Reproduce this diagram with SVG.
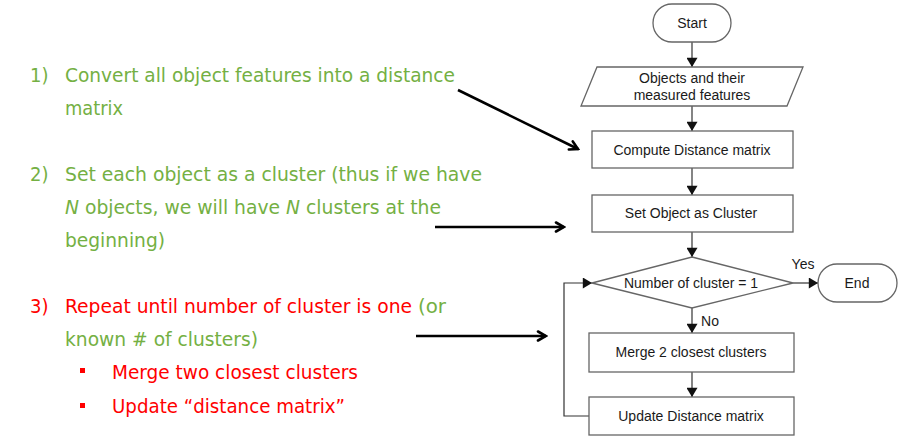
<svg xmlns="http://www.w3.org/2000/svg" width="917" height="447" viewBox="0 0 917 447">
<defs>
<marker id="fa" viewBox="0 0 10 12" refX="10" refY="6" markerWidth="11" markerHeight="11" markerUnits="userSpaceOnUse" orient="auto">
<path d="M0,0 L10,6 L0,12 Z" fill="#111"/>
</marker>
<marker id="va" viewBox="0 0 12 12" refX="10" refY="6" markerWidth="12" markerHeight="12" markerUnits="userSpaceOnUse" orient="auto">
<path d="M2,1.5 L10,6 L2,10.5" fill="none" stroke="#000" stroke-width="2.6" stroke-linecap="round" stroke-linejoin="miter"/>
</marker>
</defs>
<style>
.box{fill:#fff;stroke:#666;stroke-width:1.3}
.ft{font-family:"Liberation Sans",Arial,sans-serif;font-size:14px;fill:#1a1a1a;text-anchor:middle}
.fl{fill:none;stroke:#333;stroke-width:1.2}
.pt{font-family:"DejaVu Sans Condensed","DejaVu Sans",sans-serif;font-size:20px}
.g{fill:#74B043}
.r{fill:#FF0000}
.ba{fill:none;stroke:#000;stroke-width:2.6}
</style>
<rect width="917" height="447" fill="#fff"/>

<g id="text-left">
<text class="pt g" x="30" y="82">1)</text>
<text class="pt g" x="65" y="82" textLength="390" lengthAdjust="spacingAndGlyphs">Convert all object features into a distance</text>
<text class="pt g" x="65" y="115" textLength="58" lengthAdjust="spacingAndGlyphs">matrix</text>
<text class="pt g" x="30" y="181">2)</text>
<text class="pt g" x="65" y="181" textLength="417" lengthAdjust="spacingAndGlyphs">Set each object as a cluster (thus if we have</text>
<text class="pt g" x="65" y="214" textLength="376" lengthAdjust="spacingAndGlyphs"><tspan font-style="italic">N</tspan> objects, we will have <tspan font-style="italic">N</tspan> clusters at the</text>
<text class="pt g" x="65" y="247" textLength="100" lengthAdjust="spacingAndGlyphs">beginning)</text>
<text class="pt r" x="30" y="313">3)</text>
<text class="pt r" x="65" y="313" textLength="347" lengthAdjust="spacingAndGlyphs">Repeat until number of cluster is one</text>
<text class="pt g" x="418" y="313" textLength="28" lengthAdjust="spacingAndGlyphs">(or</text>
<text class="pt g" x="65" y="346" textLength="193" lengthAdjust="spacingAndGlyphs">known # of clusters)</text>
<rect class="r" x="80" y="368" width="5" height="5"/>
<text class="pt r" x="112" y="379" textLength="246" lengthAdjust="spacingAndGlyphs">Merge two closest clusters</text>
<rect class="r" x="80" y="403" width="5" height="5"/>
<text class="pt r" x="112" y="413" textLength="233" lengthAdjust="spacingAndGlyphs">Update “distance matrix”</text>
</g>

<g id="pointer-arrows">
<line class="ba" x1="458" y1="90" x2="578" y2="149" marker-end="url(#va)"/>
<line class="ba" x1="435" y1="227" x2="564" y2="227" marker-end="url(#va)"/>
<line class="ba" x1="416" y1="336" x2="546" y2="336" marker-end="url(#va)"/>
</g>

<g id="connectors">
<line class="fl" x1="692" y1="42" x2="692" y2="67" marker-end="url(#fa)"/>
<line class="fl" x1="692" y1="106" x2="692" y2="131" marker-end="url(#fa)"/>
<line class="fl" x1="692" y1="168" x2="692" y2="195" marker-end="url(#fa)"/>
<line class="fl" x1="692" y1="232" x2="692" y2="257" marker-end="url(#fa)"/>
<line class="fl" x1="692" y1="308" x2="692" y2="333" marker-end="url(#fa)"/>
<line class="fl" x1="692" y1="372" x2="692" y2="397" marker-end="url(#fa)"/>
<line class="fl" x1="793" y1="283" x2="818" y2="283" marker-end="url(#fa)"/>
<polyline class="fl" points="589,416 564,416 564,283 592,283" marker-end="url(#fa)"/>
<text class="ft" x="803" y="269">Yes</text>
<text class="ft" x="710" y="326">No</text>
</g>

<g id="start">
<rect class="box" x="653" y="4" width="78" height="38" rx="19"/>
<text class="ft" x="692" y="28">Start</text>
</g>
<g id="objects">
<polygon class="box" points="597,67 803,67 787,106 581,106"/>
<text class="ft" x="692" y="83">Objects and their</text>
<text class="ft" x="692" y="100">measured features</text>
</g>
<g id="compute">
<rect class="box" x="592" y="131" width="201" height="37"/>
<text class="ft" x="692" y="155">Compute Distance matrix</text>
</g>
<g id="setobj">
<rect class="box" x="592" y="195" width="201" height="37"/>
<text class="ft" x="691" y="218">Set Object as Cluster</text>
</g>
<g id="decision">
<polygon class="box" points="692,257 793,283 692,308 592,283"/>
<text class="ft" x="691" y="288">Number of cluster = 1</text>
</g>
<g id="end">
<rect class="box" x="818" y="264" width="79" height="38" rx="19"/>
<text class="ft" x="857" y="288">End</text>
</g>
<g id="merge">
<rect class="box" x="589" y="333" width="205" height="39"/>
<text class="ft" x="691" y="357">Merge 2 closest clusters</text>
</g>
<g id="update">
<rect class="box" x="589" y="397" width="205" height="38"/>
<text class="ft" x="691" y="421">Update Distance matrix</text>
</g>
</svg>
